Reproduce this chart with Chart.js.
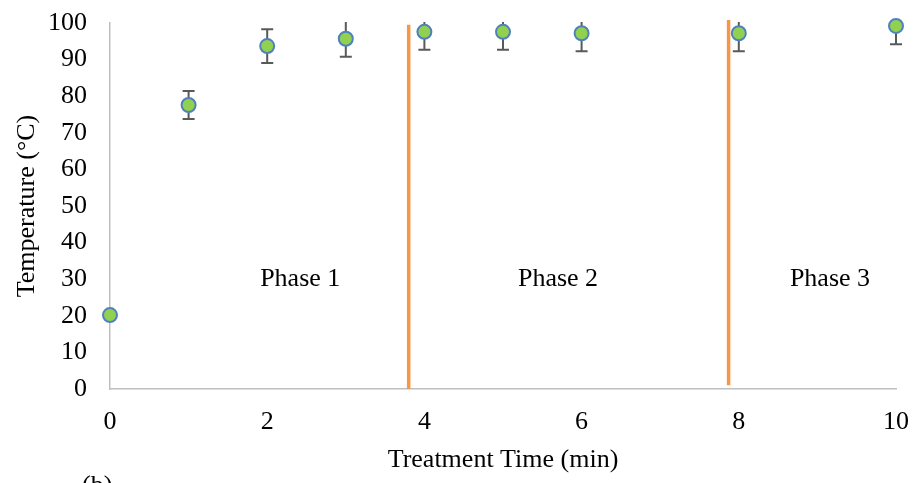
<!DOCTYPE html>
<html>
<head>
<meta charset="utf-8">
<script src="https://cdn.jsdelivr.net/npm/chart.js"></script>
<style>
  html, body { margin: 0; padding: 0; background: #fff; }
  #wrap { width: 914px; height: 483px; position: relative; }
</style>
</head>
<body>
<div id="wrap"><canvas id="chart"></canvas></div>
<script>
// data
const times = [0, 1, 2, 3, 4, 5, 6, 8, 10];
const temps = [20.2, 77.6, 93.7, 95.7, 97.6, 97.6, 97.2, 97.2, 99.2];
const errors = [0, 3.8, 4.6, 4.9, 4.9, 4.9, 4.9, 4.9, 5.0];

// phase boundaries (min) and the vertical span of each boundary line
const phaseBounds = [3.8, 7.87];
const boundLow = [0, 1];
const boundHigh = [99.5, 100.8];

const phaseLabels = ['Phase 1', 'Phase 2', 'Phase 3'];
const phaseLabelX = [2.42, 5.7, 9.16];
const phaseLabelY = 30;

const xTicks = [0, 2, 4, 6, 8, 10];
const yTicks = [0, 10, 20, 30, 40, 50, 60, 70, 80, 90, 100];

const FONT = "'Liberation Serif', 'Times New Roman', serif";

const points = times.map((t, i) => ({ x: t, y: temps[i] }));

const boundSets = phaseBounds.map((b, i) => ({
    type: 'line',
    data: [{ x: b, y: boundLow[i] }, { x: b, y: boundHigh[i] }],
    borderColor: '#F79646',
    borderWidth: 3.5,
    pointRadius: 0,
    showLine: true,
    clip: false,
    order: 2
}));

const errorBars = {
    id: 'errorBars',
    beforeDatasetsDraw(chart) {
        const { ctx, chartArea, scales: { x, y } } = chart;
        ctx.save();
        ctx.beginPath();
        ctx.rect(chartArea.left - 20, chartArea.top - 1, chartArea.width + 40, chartArea.height + 2);
        ctx.clip();
        ctx.strokeStyle = '#595959';
        ctx.lineWidth = 2;
        times.forEach((t, i) => {
            if (!errors[i]) return;
            const px = x.getPixelForValue(t);
            const top = y.getPixelForValue(temps[i] + errors[i]);
            const bot = y.getPixelForValue(temps[i] - errors[i]);
            ctx.beginPath();
            ctx.moveTo(px, top); ctx.lineTo(px, bot);
            ctx.moveTo(px - 6, top); ctx.lineTo(px + 6, top);
            ctx.moveTo(px - 6, bot); ctx.lineTo(px + 6, bot);
            ctx.stroke();
        });
        ctx.restore();
    }
};

const phaseText = {
    id: 'phaseText',
    afterDatasetsDraw(chart) {
        const { ctx, scales: { x, y } } = chart;
        ctx.save();
        ctx.font = '26px ' + FONT;
        ctx.fillStyle = '#000';
        ctx.textAlign = 'center';
        ctx.textBaseline = 'middle';
        phaseLabels.forEach((lab, i) => {
            ctx.fillText(lab, x.getPixelForValue(phaseLabelX[i]), y.getPixelForValue(phaseLabelY));
        });
        // panel tag, cut off at the bottom edge as in the source
        ctx.textAlign = 'left';
        ctx.textBaseline = 'top';
        ctx.fillText('(b)', 82, 473);
        ctx.restore();
    }
};

new Chart(document.getElementById('chart'), {
    type: 'scatter',
    data: {
        datasets: [{
            label: 'Temperature',
            data: points,
            backgroundColor: '#92D050',
            borderColor: '#4F81BD',
            borderWidth: 2,
            pointRadius: 7,
            pointHoverRadius: 7,
            clip: false,
            order: 1
        }, ...boundSets]
    },
    options: {
        responsive: true,
        maintainAspectRatio: false,
        animation: false,
        layout: { autoPadding: false, padding: { top: 23, right: 18, left: 0, bottom: 0 } },
        plugins: {
            legend: { display: false },
            tooltip: { enabled: false }
        },
        scales: {
            x: {
                type: 'linear',
                min: 0,
                max: 10,
                afterFit: s => { s.height = 94; s.paddingLeft = 0; s.paddingRight = 0; },
                afterBuildTicks: s => { s.ticks = xTicks.map(v => ({ value: v })); },
                grid: { display: false, drawTicks: false },
                border: { color: '#BFBFBF', width: 1.5 },
                ticks: { color: '#000', font: { family: FONT, size: 26 }, padding: 18, maxRotation: 0 },
                title: {
                    display: true,
                    text: 'Treatment Time (min)',
                    color: '#000',
                    font: { family: FONT, size: 26 },
                    padding: { top: 0, bottom: 7 }
                }
            },
            y: {
                min: 0,
                max: 100,
                afterFit: s => { s.width = 110; s.paddingTop = 0; s.paddingBottom = 0; },
                afterBuildTicks: s => { s.ticks = yTicks.map(v => ({ value: v })); },
                grid: { display: false, drawTicks: false },
                border: { color: '#BFBFBF', width: 1.5 },
                ticks: { color: '#000', font: { family: FONT, size: 26 }, padding: 23 },
                title: {
                    display: true,
                    text: 'Temperature (°C)',
                    color: '#000',
                    font: { family: FONT, size: 26 },
                    padding: { top: 12, bottom: 0 }
                }
            }
        }
    },
    plugins: [errorBars, phaseText]
});
</script>
</body>
</html>
